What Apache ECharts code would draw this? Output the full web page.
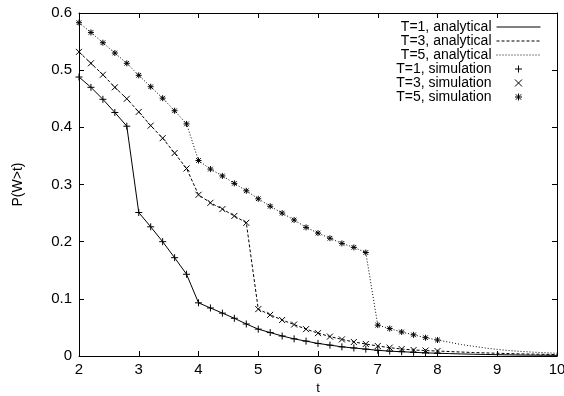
<!DOCTYPE html>
<html>
<head>
<meta charset="utf-8">
<script src="https://cdn.jsdelivr.net/npm/echarts@6/dist/echarts.min.js"></script>
<style>
  html, body { margin: 0; padding: 0; background: #fff; }
  #chart { width: 564px; height: 396px; }
</style>
</head>
<body>
<div id="chart"></div>
<script>
// simulation sample points (t = 2 .. 8, step 0.2)
const tSim = [2.0, 2.2, 2.4, 2.6, 2.8, 3.0, 3.2, 3.4, 3.6, 3.8, 4.0, 4.2, 4.4, 4.6, 4.8, 5.0,
  5.2, 5.4, 5.6, 5.8, 6.0, 6.2, 6.4, 6.6, 6.8, 7.0, 7.2, 7.4, 7.6, 7.8, 8.0];
const simT1 = [0.488, 0.470, 0.449, 0.426, 0.402, 0.251, 0.226, 0.200, 0.172, 0.143, 0.093, 0.084,
  0.075, 0.066, 0.056, 0.047, 0.041, 0.035, 0.030, 0.026, 0.022, 0.019, 0.016, 0.014, 0.012,
  0.010, 0.0085, 0.0075, 0.0065, 0.0055, 0.0048];
const simT3 = [0.532, 0.512, 0.492, 0.470, 0.450, 0.427, 0.403, 0.381, 0.355, 0.328, 0.282, 0.268,
  0.257, 0.245, 0.233, 0.082, 0.072, 0.063, 0.055, 0.047, 0.040, 0.034, 0.029, 0.0245, 0.021,
  0.0175, 0.0146, 0.0122, 0.0105, 0.0095, 0.0087];
const simT5 = [0.583, 0.566, 0.548, 0.530, 0.512, 0.491, 0.471, 0.451, 0.429, 0.406, 0.342, 0.327,
  0.315, 0.302, 0.289, 0.275, 0.262, 0.250, 0.238, 0.225, 0.215, 0.206, 0.197, 0.190, 0.181,
  0.054, 0.048, 0.042, 0.037, 0.032, 0.028];

// analytical curves (t = 2 .. 10, step 0.2)
const tAna = [2.0, 2.2, 2.4, 2.6, 2.8, 3.0, 3.2, 3.4, 3.6, 3.8, 4.0, 4.2, 4.4, 4.6, 4.8, 5.0,
  5.2, 5.4, 5.6, 5.8, 6.0, 6.2, 6.4, 6.6, 6.8, 7.0, 7.2, 7.4, 7.6, 7.8, 8.0,
  8.2, 8.4, 8.6, 8.8, 9.0, 9.2, 9.4, 9.6, 9.8, 10.0];
const anaT1 = [0.488, 0.470, 0.449, 0.426, 0.402, 0.251, 0.226, 0.200, 0.172, 0.143, 0.093, 0.084,
  0.075, 0.066, 0.056, 0.047, 0.041, 0.035, 0.030, 0.026, 0.022, 0.019, 0.016, 0.014, 0.012,
  0.010, 0.0085, 0.0075, 0.0065, 0.0055, 0.0048,
  0.0042, 0.0036, 0.0031, 0.0027, 0.0023, 0.0020, 0.0017, 0.0015, 0.0013, 0.0011];
const anaT3 = [0.532, 0.512, 0.492, 0.470, 0.450, 0.427, 0.403, 0.381, 0.355, 0.328, 0.282, 0.268,
  0.257, 0.245, 0.233, 0.082, 0.072, 0.063, 0.055, 0.047, 0.040, 0.034, 0.029, 0.0245, 0.021,
  0.0175, 0.0146, 0.0122, 0.0105, 0.0095, 0.0087,
  0.0078, 0.0069, 0.0061, 0.0054, 0.0048, 0.0042, 0.0037, 0.0033, 0.0029, 0.0026];
const anaT5 = [0.583, 0.566, 0.548, 0.530, 0.512, 0.491, 0.471, 0.451, 0.429, 0.406, 0.342, 0.327,
  0.315, 0.302, 0.289, 0.275, 0.262, 0.250, 0.238, 0.225, 0.215, 0.206, 0.197, 0.190, 0.181,
  0.054, 0.048, 0.042, 0.037, 0.032, 0.028,
  0.024, 0.020, 0.017, 0.014, 0.0115, 0.0095, 0.008, 0.0068, 0.0057, 0.0048];

const FONT = "'Liberation Sans', Arial, sans-serif";
const plus = "path://M0,3.5L7,3.5M3.5,0L3.5,7";
const cross = "path://M0,0L7,7M0,7L7,0";
const star = "path://M0,3.5L7,3.5M3.5,0L3.5,7M0.8,0.8L6.2,6.2M0.8,6.2L6.2,0.8";

const pairs = (ts, vs) => ts.map((t, i) => [t, vs[i]]);

const chart = echarts.init(document.getElementById("chart"), null, { renderer: "canvas" });

const xBase = {
  type: "value", min: 2, max: 10, interval: 1,
  axisLine: { onZero: false, lineStyle: { color: "#000", width: 1 } },
  axisTick: { inside: true, length: 5, lineStyle: { color: "#000" } },
  splitLine: { show: false },
};
const yBase = {
  type: "value", min: 0, max: 0.6, interval: 0.1,
  axisLine: { show: true, onZero: false, lineStyle: { color: "#000", width: 1 } },
  axisTick: { show: true, inside: true, length: 5, lineStyle: { color: "#000" } },
  splitLine: { show: false },
};

const anaLine = (name, data, type) => ({
  name, type: "line", data, showSymbol: false, symbol: "none",
  lineStyle: { color: "#000", width: 1, type },
  itemStyle: { color: "#000" },
  z: 2,
});
const simPts = (name, data, symbol, size) => ({
  name, type: "scatter", data, symbol, symbolSize: size,
  itemStyle: { color: "transparent", borderColor: "#000", borderWidth: 1, opacity: 1 },
  z: 3,
});
const legLine = (name, type) => ({
  name,
  itemStyle: { color: "transparent", borderColor: "transparent", borderWidth: 0, opacity: 0 },
  lineStyle: { color: "#000", width: 1, type, opacity: 1 },
});
const legPt = (name) => ({
  name,
  itemStyle: { color: "transparent", borderColor: "#000", borderWidth: 1 },
});

chart.setOption({
  animation: false,
  textStyle: { fontFamily: FONT },
  grid: { left: 79, right: 7, top: 13, bottom: 40, containLabel: false, outerBoundsMode: "none" },
  legend: {
    orient: "vertical",
    right: 23,
    top: 20,
    align: "right",
    itemWidth: 44,
    itemHeight: 7,
    itemGap: 0,
    padding: 0,
    selectedMode: false,
    textStyle: { fontSize: 14, color: "#000", fontFamily: FONT, lineHeight: 14 },
    data: [
      legLine("T=1, analytical", "solid"),
      legLine("T=3, analytical", [3, 2]),
      legLine("T=5, analytical", [1, 2]),
      legPt("T=1, simulation"),
      legPt("T=3, simulation"),
      legPt("T=5, simulation"),
    ],
  },
  xAxis: [
    Object.assign({}, xBase, {
      position: "bottom",
      name: "t", nameLocation: "middle", nameGap: 25,
      nameTextStyle: { fontSize: 13, color: "#000", fontFamily: FONT },
      axisLabel: { color: "#000", fontSize: 15, margin: 6, fontFamily: FONT },
    }),
    Object.assign({}, xBase, { position: "top", axisLabel: { show: false } }),
  ],
  yAxis: [
    Object.assign({}, yBase, {
      position: "left",
      name: "P(W>t)", nameLocation: "middle", nameGap: 54, nameRotate: 90,
      nameTextStyle: { fontSize: 14, color: "#000", fontFamily: FONT },
      axisLabel: { color: "#000", fontSize: 15, margin: 7, fontFamily: FONT },
    }),
    Object.assign({}, yBase, { position: "right", axisLabel: { show: false } }),
  ],
  series: [
    anaLine("T=1, analytical", pairs(tAna, anaT1), "solid"),
    anaLine("T=3, analytical", pairs(tAna, anaT3), [3, 2]),
    anaLine("T=5, analytical", pairs(tAna, anaT5), [1, 2]),
    simPts("T=1, simulation", pairs(tSim, simT1), plus, 7),
    simPts("T=3, simulation", pairs(tSim, simT3), cross, 6),
    simPts("T=5, simulation", pairs(tSim, simT5), star, 6),
  ],
});
</script>
</body>
</html>
